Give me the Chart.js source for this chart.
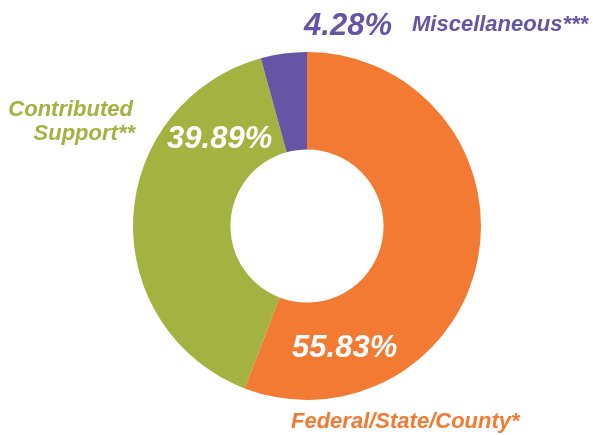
<!DOCTYPE html>
<html>
<head>
<meta charset="utf-8">
<script src="https://cdn.jsdelivr.net/npm/chart.js@4"></script>
<style>
  html, body { margin: 0; padding: 0; background: #fff; }
  #wrap { width: 593px; height: 435px; }
</style>
</head>
<body>
<div id="wrap"><canvas id="myChart"></canvas></div>
<script>
const categories = ['Federal/State/County*', 'Contributed Support**', 'Miscellaneous***'];
const shares = [55.83, 39.89, 4.28];
const colors = ['#f37a32', '#a3b240', '#6655a4'];

// text placed around the ring, like the printed report
const textLabels = {
    id: 'textLabels',
    afterDraw(chart) {
        const c = chart.ctx;
        const put = (txt, x, y, size, color, align, sx) => {
            c.save();
            c.font = 'italic bold ' + size + 'px "Liberation Sans", Arial, sans-serif';
            c.fillStyle = color;
            c.textAlign = align;
            c.textBaseline = 'alphabetic';
            c.translate(x, y);
            c.scale(sx, 1);
            c.fillText(txt, 0, 0);
            c.restore();
        };
        const pct = v => v.toFixed(2) + '%';
        // values
        put(pct(shares[0]), 292, 357, 32, '#ffffff', 'left', 0.97);
        put(pct(shares[1]), 167, 148, 32, '#ffffff', 'left', 0.97);
        put(pct(shares[2]), 304, 35, 32, colors[2], 'left', 0.97);
        // names
        put('Miscellaneous***', 412, 31, 22, colors[2], 'left', 1);
        put('Contributed', 133, 116, 22, colors[1], 'right', 1);
        put('Support**', 135, 140, 22, colors[1], 'right', 1);
        put('Federal/State/County*', 291, 428, 22, colors[0], 'left', 1);
    }
};

const ctx = document.getElementById('myChart').getContext('2d');

new Chart(ctx, {
    type: 'doughnut',
    data: {
        labels: categories,
        datasets: [{
            data: shares,
            backgroundColor: colors,
            borderWidth: 0,
        }]
    },
    options: {
        responsive: true,
        maintainAspectRatio: false,
        animation: false,
        cutout: '44%',
        layout: {
            padding: { left: 133, right: 112, top: 52, bottom: 35 }
        },
        plugins: {
            legend: { display: false },
            tooltip: { enabled: false }
        }
    },
    plugins: [textLabels]
});
</script>
</body>
</html>
